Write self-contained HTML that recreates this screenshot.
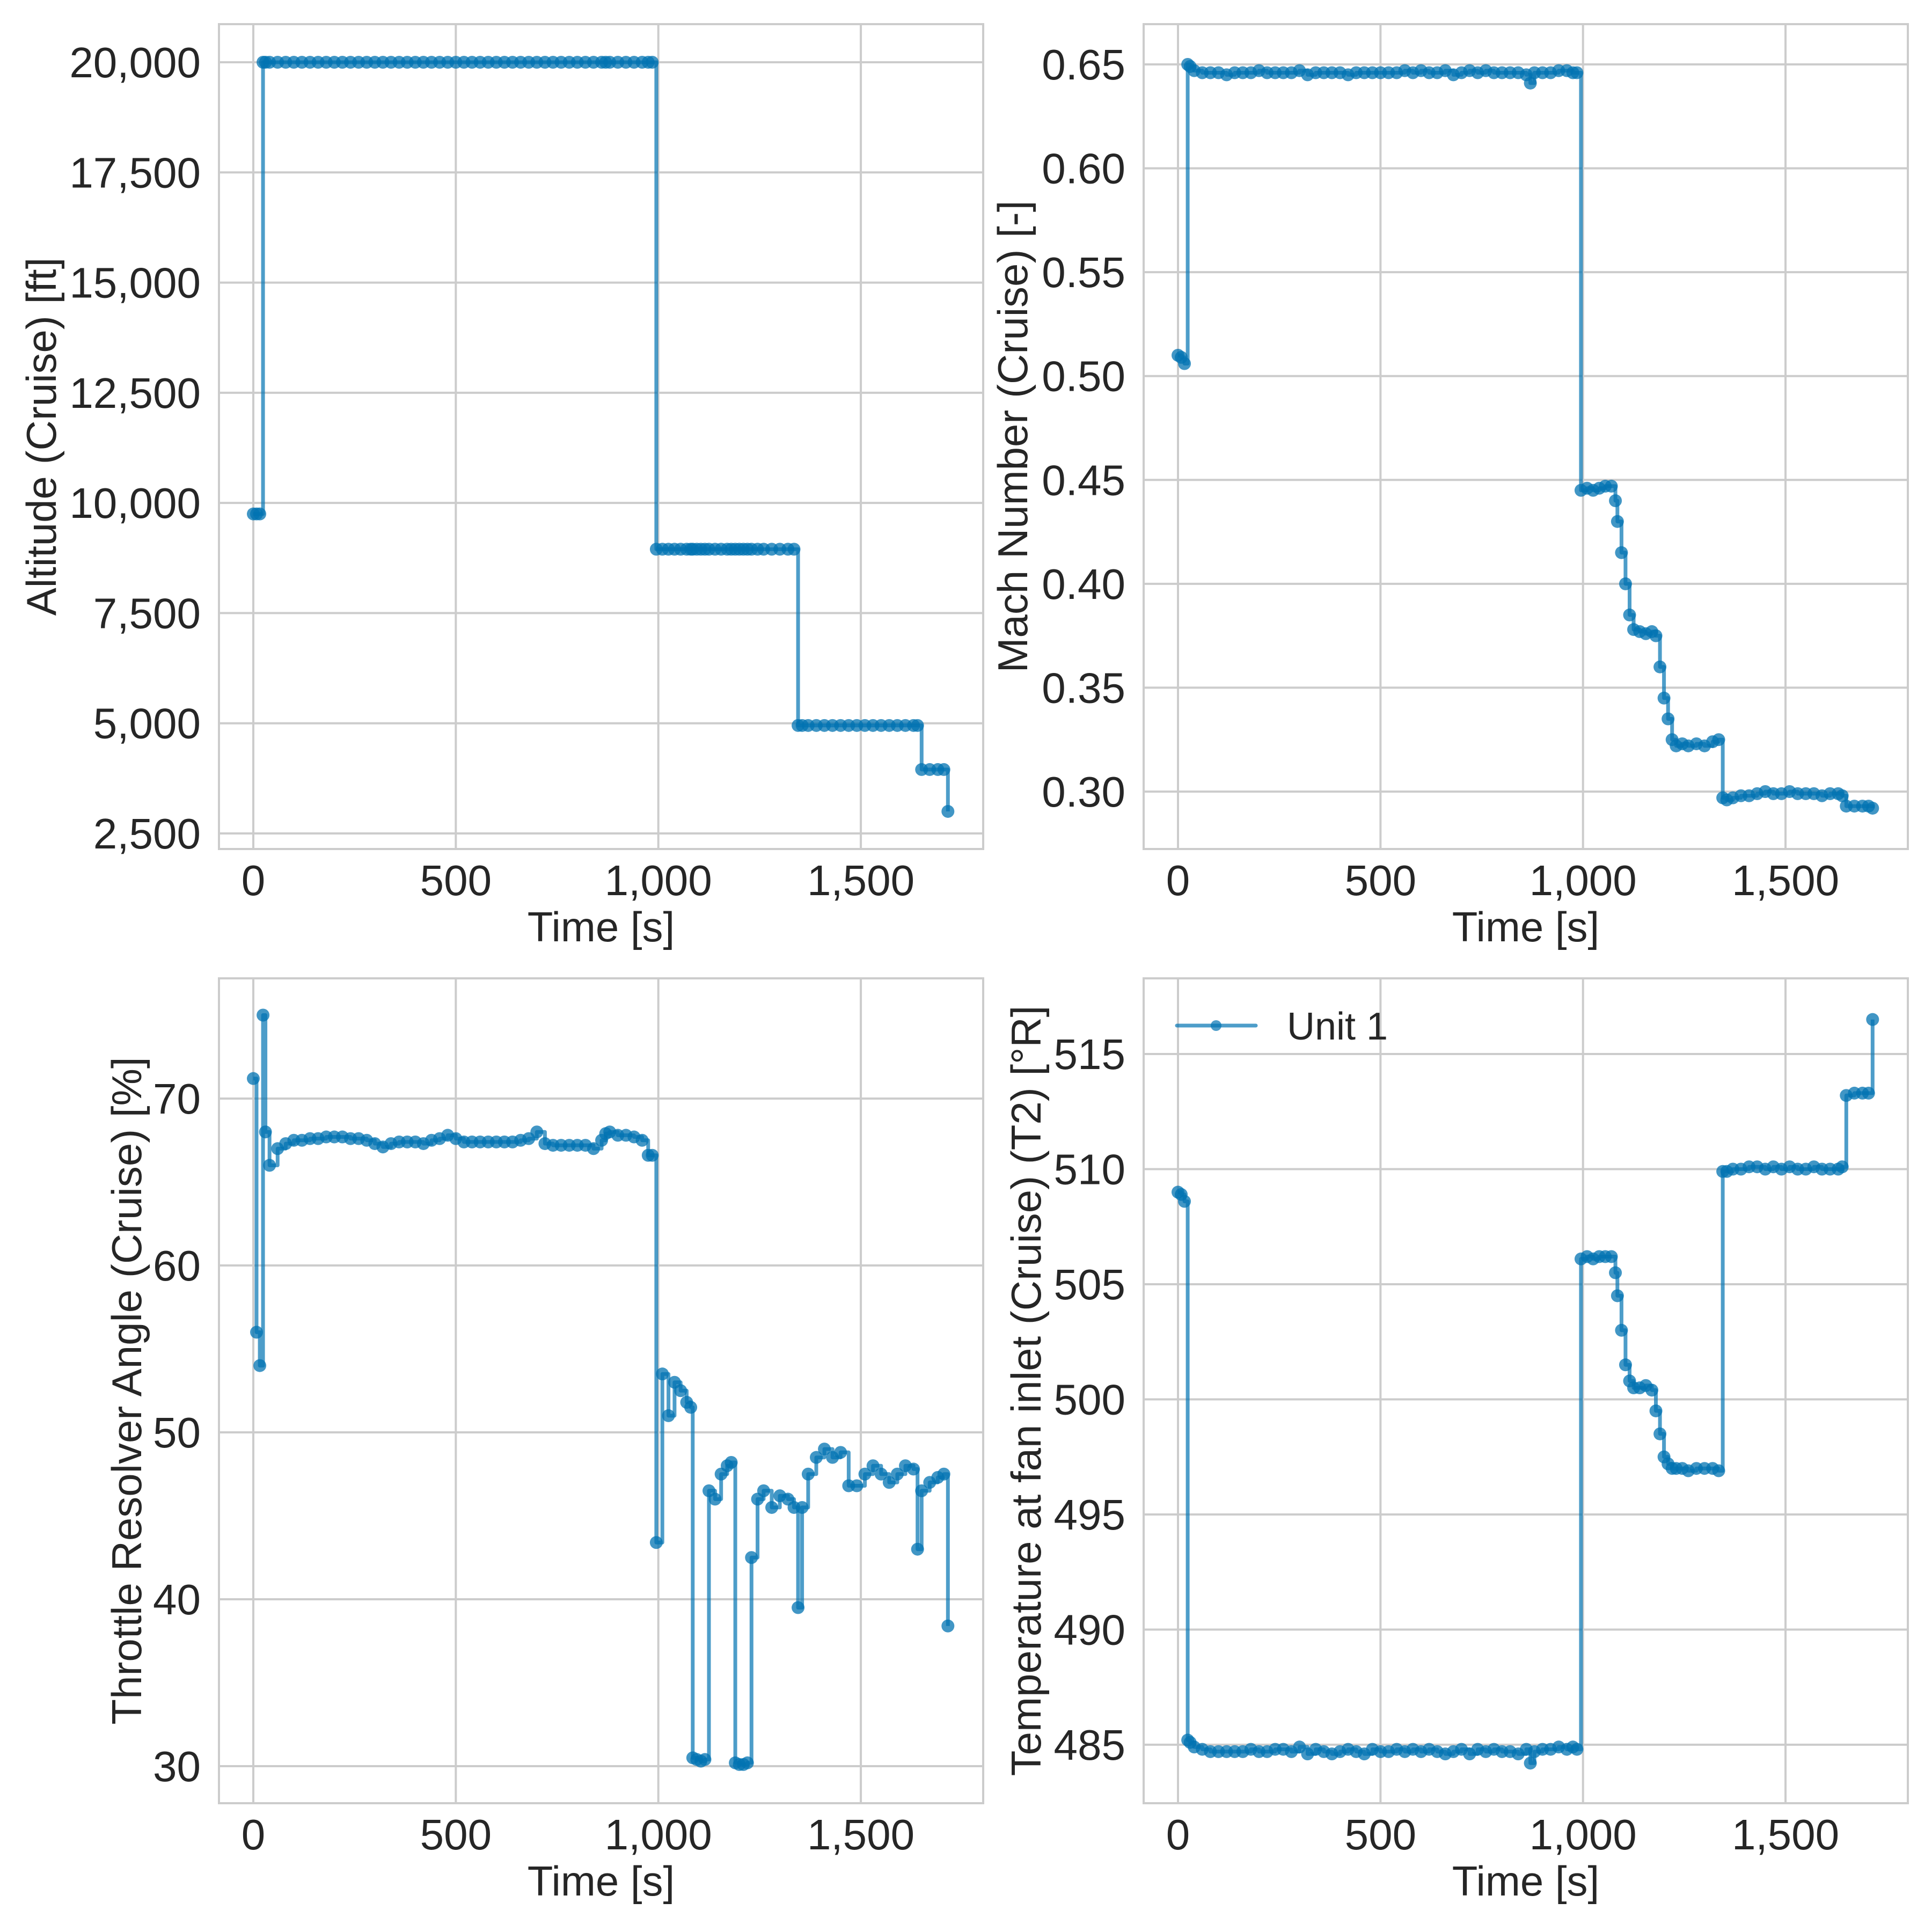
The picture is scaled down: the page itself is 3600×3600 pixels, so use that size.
<!DOCTYPE html>
<html><head><meta charset="utf-8"><style>
html,body{margin:0;padding:0;background:#fff;}
svg{display:block;font-family:"Liberation Sans",Arial,sans-serif;}
</style></head><body>
<svg id="fig" width="3600" height="3600" viewBox="0 0 3600 3600" xmlns="http://www.w3.org/2000/svg"></svg>
<script>
const timeSec = [0,8,16,24,30,40,60,80,100,120,
140,160,180,200,220,240,260,280,300,320,
340,360,380,400,420,440,460,480,500,520,
540,560,580,600,620,640,660,680,700,720,
740,760,780,800,820,840,860,870,880,900,
920,940,960,975,985,995,1010,1025,1040,1055,
1070,1080,1085,1095,1105,1115,1125,1140,1155,1170,
1180,1190,1200,1210,1220,1230,1245,1260,1280,1300,
1320,1335,1345,1355,1370,1390,1410,1430,1450,1470,
1490,1510,1530,1550,1570,1590,1610,1630,1640,1650,
1670,1690,1705,1715];
const altitude = [9750,9750,9750,20000,20000,20000,20000,20000,20000,20000,
20000,20000,20000,20000,20000,20000,20000,20000,20000,20000,
20000,20000,20000,20000,20000,20000,20000,20000,20000,20000,
20000,20000,20000,20000,20000,20000,20000,20000,20000,20000,
20000,20000,20000,20000,20000,20000,20000,20000,20000,20000,
20000,20000,20000,20000,20000,8950,8950,8950,8950,8950,
8950,8950,8950,8950,8950,8950,8950,8950,8950,8950,
8950,8950,8950,8950,8950,8950,8950,8950,8950,8950,
8950,8950,4950,4950,4950,4950,4950,4950,4950,4950,
4950,4950,4950,4950,4950,4950,4950,4950,4950,3950,
3950,3950,3950,3000];
const mach = [0.510,0.509,0.506,0.650,0.649,0.647,0.646,0.646,0.646,0.645,
0.646,0.646,0.646,0.647,0.646,0.646,0.646,0.646,0.647,0.645,
0.646,0.646,0.646,0.646,0.645,0.646,0.646,0.646,0.646,0.646,
0.646,0.647,0.646,0.647,0.646,0.646,0.647,0.645,0.646,0.647,
0.646,0.647,0.646,0.646,0.646,0.646,0.645,0.641,0.646,0.646,
0.646,0.647,0.647,0.646,0.646,0.445,0.446,0.445,0.446,0.447,
0.447,0.440,0.430,0.415,0.400,0.385,0.378,0.377,0.376,0.377,
0.375,0.360,0.345,0.335,0.325,0.322,0.323,0.322,0.323,0.322,
0.324,0.325,0.297,0.296,0.297,0.298,0.298,0.299,0.300,0.299,
0.299,0.300,0.299,0.299,0.299,0.298,0.299,0.299,0.298,0.293,
0.293,0.293,0.293,0.292];
const throttle = [71.2,56.0,54.0,75.0,68.0,66.0,67.0,67.3,67.5,67.5,
67.6,67.6,67.7,67.7,67.7,67.6,67.6,67.5,67.3,67.1,
67.3,67.4,67.4,67.4,67.3,67.5,67.6,67.8,67.6,67.4,
67.4,67.4,67.4,67.4,67.4,67.4,67.5,67.6,68.0,67.3,
67.2,67.2,67.2,67.2,67.2,67.0,67.5,67.9,68.0,67.8,
67.8,67.7,67.5,66.6,66.6,43.4,53.5,51.0,53.0,52.5,
51.8,51.5,30.5,30.4,30.3,30.4,46.5,46.0,47.5,48.0,
48.2,30.2,30.1,30.1,30.2,42.5,46.0,46.5,45.5,46.2,
46.0,45.5,39.5,45.5,47.5,48.5,49.0,48.5,48.8,46.8,
46.8,47.5,48.0,47.5,47.0,47.5,48.0,47.8,43.0,46.5,
47.0,47.3,47.5,38.4];
const fanTemp = [509.0,508.9,508.6,485.2,485.1,484.9,484.8,484.7,484.7,484.7,
484.7,484.7,484.8,484.7,484.7,484.8,484.8,484.7,484.9,484.6,
484.8,484.7,484.6,484.7,484.8,484.7,484.6,484.8,484.7,484.7,
484.8,484.7,484.8,484.7,484.8,484.7,484.6,484.7,484.8,484.6,
484.8,484.7,484.8,484.7,484.7,484.6,484.8,484.2,484.7,484.8,
484.8,484.9,484.8,484.9,484.8,506.1,506.2,506.1,506.2,506.2,
506.2,505.5,504.5,503.0,501.5,500.8,500.5,500.5,500.6,500.4,
499.5,498.5,497.5,497.2,497.0,497.0,497.0,496.9,497.0,497.0,
497.0,496.9,509.9,509.9,510.0,510.0,510.1,510.1,510.0,510.1,
510.0,510.1,510.0,510.0,510.1,510.0,510.0,510.0,510.1,513.2,
513.3,513.3,513.3,516.5];
const xTicks = [0,500,1000,1500];
const xTickLabels = ["0","500","1,000","1,500"];
const altTicks = [2500,5000,7500,10000,12500,15000,17500,20000];
const altTickLabels = ["2,500","5,000","7,500","10,000","12,500","15,000","17,500","20,000"];
const machTicks = [0.30,0.35,0.40,0.45,0.50,0.55,0.60,0.65];
const machTickLabels = ["0.30","0.35","0.40","0.45","0.50","0.55","0.60","0.65"];
const thrTicks = [30,40,50,60,70];
const thrTickLabels = ["30","40","50","60","70"];
const tempTicks = [485,490,495,500,505,510,515];
const tempTickLabels = ["485","490","495","500","505","510","515"];

const NS="http://www.w3.org/2000/svg";
const svg=document.getElementById('fig');
function mk(tag,attrs,parent){const e=document.createElementNS(NS,tag);for(const k in attrs)e.setAttribute(k,attrs[k]);(parent||svg).appendChild(e);return e;}

const panels=[
 {name:'altitude',L:408,T:45,W:1424,H:1537,x0:472,x1000:754.7,ya:20000,yaPx:116,yb:2500,ybPx:1553,vals:altitude,ticks:altTicks,labels:altTickLabels,ylab:'Altitude (Cruise) [ft]',ylabX:77},
 {name:'mach',L:2131,T:45,W:1424,H:1537,x0:2195,x1000:754.7,ya:0.65,yaPx:120,yb:0.30,ybPx:1475,vals:mach,ticks:machTicks,labels:machTickLabels,ylab:'Mach Number (Cruise) [-]',ylabX:1887},
 {name:'throttle',L:408,T:1823,W:1424,H:1537,x0:472,x1000:754.7,ya:70,yaPx:2047,yb:30,ybPx:3291,vals:throttle,ticks:thrTicks,labels:thrTickLabels,ylab:'Throttle Resolver Angle (Cruise) [%]',ylabX:236},
 {name:'fan-temp',L:2131,T:1823,W:1424,H:1537,x0:2195,x1000:754.7,ya:515,yaPx:1964,yb:485,ybPx:3251,vals:fanTemp,ticks:tempTicks,labels:tempTickLabels,ylab:'Temperature at fan inlet (Cruise) (T2) [°R]',ylabX:1912,legend:true}
];

panels.forEach(p=>{
  const xs=v=>p.x0+v*p.x1000/1000;
  const ys=v=>p.yaPx+(v-p.ya)*(p.ybPx-p.yaPx)/(p.yb-p.ya);
  const g=mk('g',{});
  
  
  const bg=mk('rect',{x:p.L,y:p.T,width:p.W,height:p.H,fill:'#fff'},g);
  
  
  const grid=mk('g',{stroke:'#cccccc','stroke-width':4},g);
  
  
  xTicks.forEach((t,i)=>{
    const x=xs(t);
    mk('line',{x1:x,x2:x,y1:p.T,y2:p.T+p.H},grid);
    const tl=mk('text',{x:x,y:p.T+p.H+86,'font-size':80,fill:'#262626','text-anchor':'middle'},g);
    tl.textContent=xTickLabels[i];
    
    
  });
  p.ticks.forEach((t,i)=>{
    const y=ys(t);
    mk('line',{x1:p.L,x2:p.L+p.W,y1:y,y2:y},grid);
    const tl=mk('text',{x:p.L-34,y:y+28,'font-size':80,fill:'#262626','text-anchor':'end'},g);
    tl.textContent=p.labels[i];
    
    
  });
  const frame=mk('rect',{x:p.L,y:p.T,width:p.W,height:p.H,fill:'none',stroke:'#cccccc','stroke-width':4},g);
  
  
  // steps-post line
  let pts=[];
  timeSec.forEach((t,i)=>{
    const x=xs(t), y=ys(p.vals[i]);
    if(i>0) pts.push(x.toFixed(1)+','+ys(p.vals[i-1]).toFixed(1));
    pts.push(x.toFixed(1)+','+y.toFixed(1));
  });
  const line=mk('polyline',{points:pts.join(' '),fill:'none',stroke:'#0173b2','stroke-opacity':0.7,'stroke-width':7,'stroke-linejoin':'round'},g);
  
  
  const mg=mk('g',{fill:'#0173b2','fill-opacity':0.75},g);
  
  
  timeSec.forEach((t,i)=>{
    const c=mk('circle',{cx:xs(t),cy:ys(p.vals[i]),r:12},mg);
    
    
  });
  const xl=mk('text',{x:p.L+p.W/2,y:p.T+p.H+172,'font-size':78,fill:'#262626','text-anchor':'middle'},g);
  xl.textContent='Time [s]';
  
  
  const cy=p.T+p.H/2;
  const yl=mk('text',{x:p.ylabX,y:cy,'font-size':78,fill:'#262626','text-anchor':'middle',transform:'rotate(-90 '+p.ylabX+' '+cy+')','dominant-baseline':'central'},g);
  yl.textContent=p.ylab;
  
  
  if(p.legend){
    const lg=mk('g',{},g);
    
    
    mk('line',{x1:2193,x2:2340,y1:1911,y2:1911,stroke:'#0173b2','stroke-opacity':0.7,'stroke-width':7,'stroke-linecap':'round'},lg);
    mk('circle',{cx:2266,cy:1911,r:10,fill:'#0173b2','fill-opacity':0.7},lg);
    const lt=mk('text',{x:2398,y:1937,'font-size':72,fill:'#262626'},lg);
    lt.textContent='Unit 1';
  }
});
</script>
</body></html>
